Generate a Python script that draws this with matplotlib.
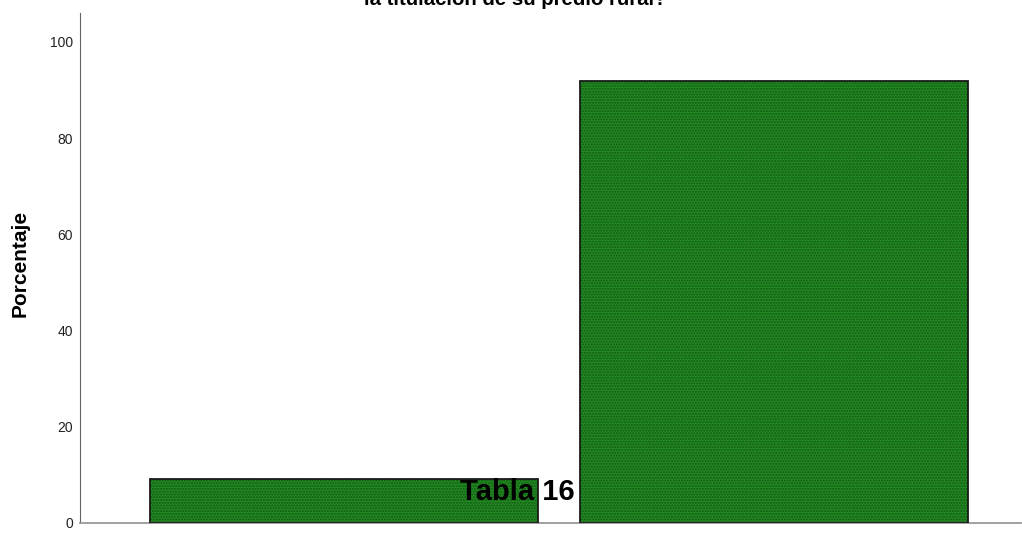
import numpy as np
import matplotlib
matplotlib.use("Agg")
import matplotlib.pyplot as plt

plt.rcParams['font.family'] = ['Liberation Sans', 'DejaVu Sans']

# data
categories = ["No", "Sí"]
percentages = [9.1, 91.8]
yticks = [0, 20, 40, 60, 80, 100]

title = "¿Cuenta con asistencia técnica para\nla titulación de su predio rural?"
ylabel = "Porcentaje"
overlay = "Tabla 16"

fig = plt.figure(figsize=(10.22, 5.33), dpi=100)
ax = fig.add_axes([0.0783, 0.0188, 0.9207, 0.9568])

x = np.arange(len(categories))
# fill with a fine dotted texture, then the dark outline on top
ax.bar(x, percentages, width=0.902, color="#228a22", hatch="......",
       edgecolor="#135813", linewidth=0, zorder=2)
ax.bar(x, percentages, width=0.902, fill=False, edgecolor="#1a1a1a",
       linewidth=1.3, zorder=3)

ax.set_xlim(-0.614, 1.573)
ax.set_ylim(0, 106)
ax.set_xticks([])
ax.set_yticks(yticks)
ax.set_yticklabels([str(t) for t in yticks], fontsize=10, color="#222222")
ax.tick_params(axis="y", length=0, pad=5)

for s in ["top", "right"]:
    ax.spines[s].set_visible(False)
ax.spines["left"].set_color("#666666")
ax.spines["bottom"].set_color("#999999")
ax.spines["bottom"].set_linewidth(1.3)

fig.text(20 / 1022, 0.505, ylabel, rotation=90, fontsize=15, fontweight="bold",
         ha="center", va="center")

# title sits mostly above the visible canvas, as in the source
fig.text(515 / 1022, (533 - 5) / 533, title, fontsize=14.7, fontweight="bold",
         ha="center", va="baseline", multialignment="center")

fig.text(460 / 1022, (533 - 500) / 533, overlay, fontsize=21,
         fontweight="bold", ha="left", va="baseline", zorder=5)

fig.savefig("out.png", dpi=100)
